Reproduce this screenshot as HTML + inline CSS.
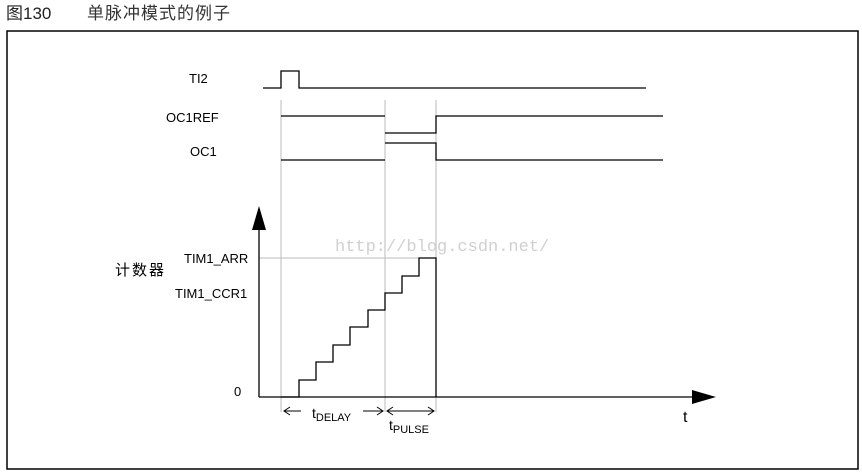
<!DOCTYPE html>
<html><head><meta charset="utf-8"><style>
html,body{margin:0;padding:0;background:#fff;}
svg{display:block;}
text{font-family:"Liberation Sans","Noto Sans CJK SC",sans-serif;}
</style></head><body>
<svg width="862" height="472" viewBox="0 0 862 472" xmlns="http://www.w3.org/2000/svg">
<text x="6" y="19" font-size="17" style="fill:#222">图130</text>
<text x="87" y="19" font-size="17" style="fill:#333;letter-spacing:1px">单脉冲模式的例子</text>
<rect x="7" y="31" width="851" height="438" fill="none" stroke="#000" stroke-width="1.5"/>
<g stroke="#bbb" stroke-width="1">
<line x1="281" y1="100" x2="281" y2="412"/>
<line x1="385" y1="100" x2="385" y2="412"/>
<line x1="436" y1="100" x2="436" y2="412"/>
<line x1="259" y1="258" x2="419" y2="258"/>
</g>
<text x="335" y="251" font-size="17" style="fill:#d0d0d0;font-family:'Liberation Mono',monospace">http://blog.csdn.net/</text>
<g fill="none" stroke="#000" stroke-width="1.3">
<polyline points="263,88 281,88 281,71 299,71 299,88 646,88"/>
<line x1="281" y1="116" x2="385" y2="116"/>
<polyline points="385,133 436,133 436,116 663,116"/>
<line x1="281" y1="160" x2="385" y2="160"/>
<polyline points="385,143 436,143 436,160 663,160"/>
<line x1="259" y1="228" x2="259" y2="397"/>
<line x1="259" y1="397" x2="694" y2="397"/>
<polyline points="281,397 299,397 299,380 316,380 316,362 333,362 333,345 350,345 350,327 368,327 368,310 385,310 385,293 402,293 402,276 419,276 419,258 436,258 436,397"/>
</g>
<polygon points="259,206 252,230 266,230" fill="#000"/>
<polygon points="716,397 692,390 692,404" fill="#000"/>
<g font-size="13" style="fill:#000">
<text x="189" y="83">TI2</text>
<text x="166" y="122">OC1REF</text>
<text x="190" y="156">OC1</text>
<text x="184" y="263">TIM1_ARR</text>
<text x="175" y="298">TIM1_CCR1</text>
<text x="234" y="396">0</text>
</g>
<text x="115" y="275" font-size="15" style="letter-spacing:2px;fill:#000">计数器</text>
<text x="683" y="422" font-size="16" style="fill:#000">t</text>
<g fill="none" stroke="#000" stroke-width="1">
<line x1="284" y1="411" x2="301" y2="411"/><polyline points="290,407 284,411 290,415"/>
<line x1="363" y1="411" x2="383" y2="411"/><polyline points="377,407 383,411 377,415"/>
<line x1="387" y1="411" x2="434" y2="411"/><polyline points="393,407 387,411 393,415"/><polyline points="428,407 434,411 428,415"/>
</g>
<text x="312" y="418" font-size="14" style="fill:#000">t<tspan font-size="11" dy="3">DELAY</tspan></text>
<text x="389" y="430" font-size="14" style="fill:#000">t<tspan font-size="11" dy="3">PULSE</tspan></text>
</svg>
</body></html>
